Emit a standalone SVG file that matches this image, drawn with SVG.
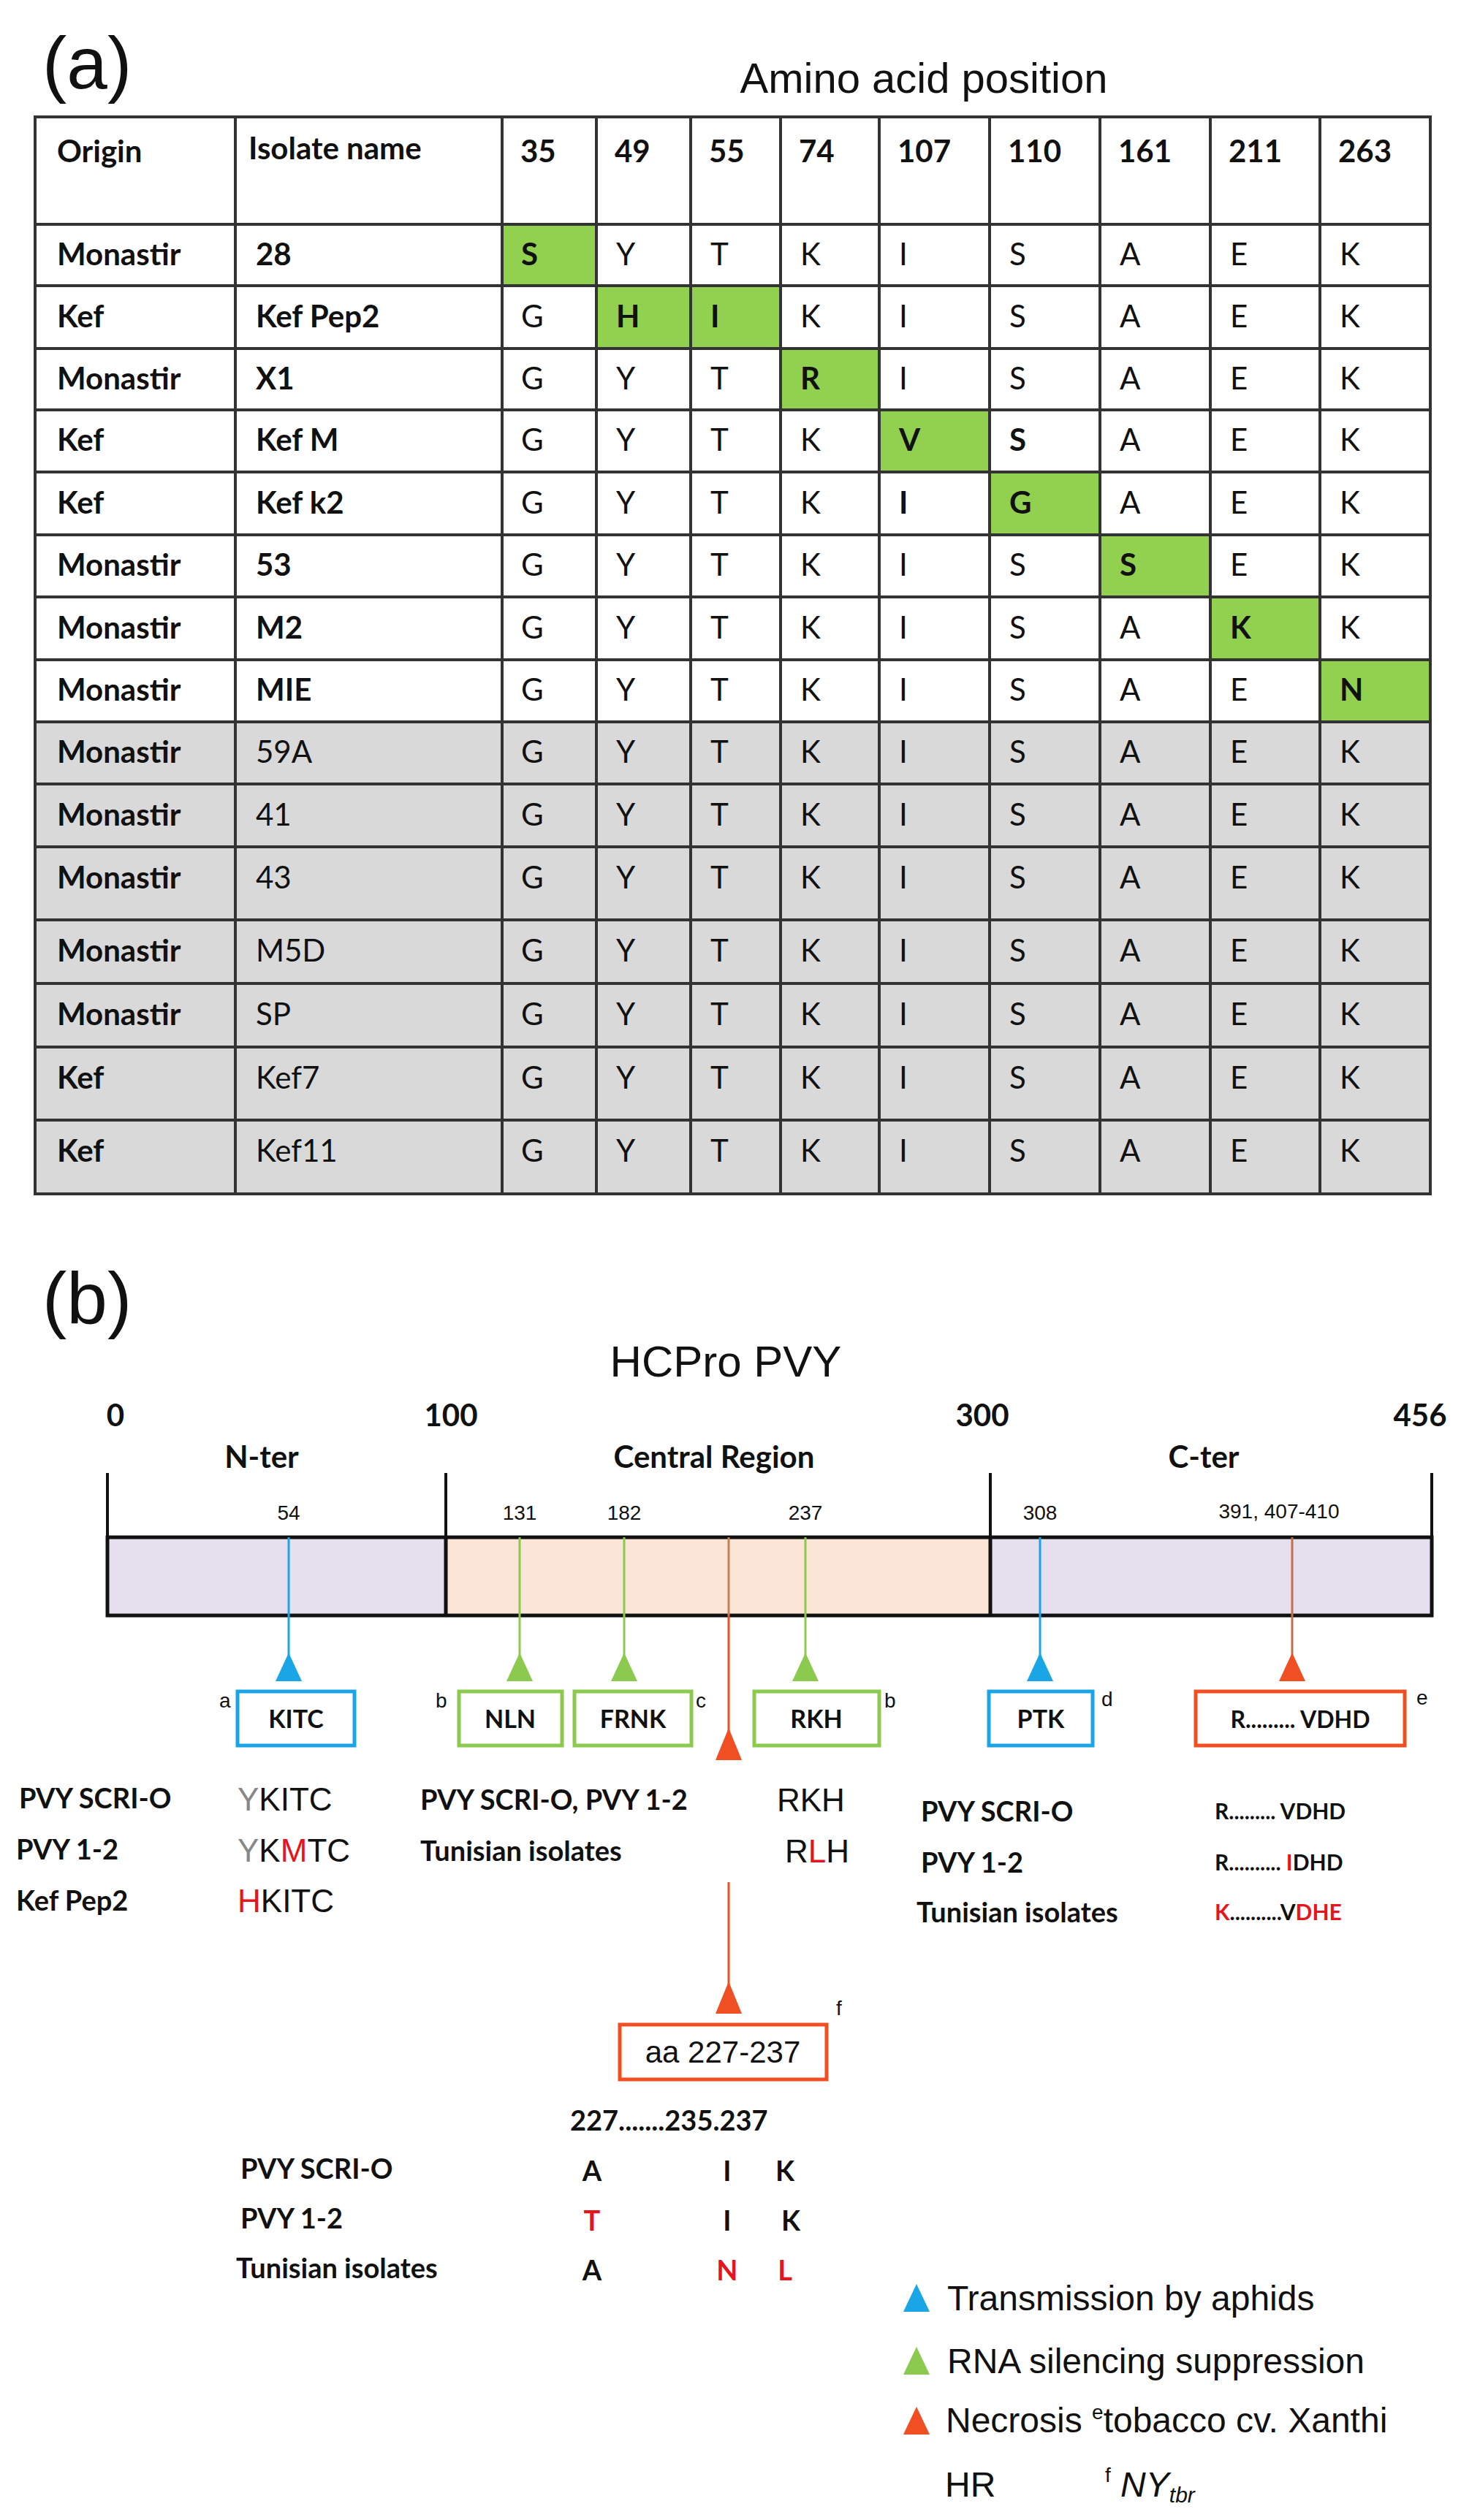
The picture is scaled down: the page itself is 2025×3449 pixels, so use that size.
<svg xmlns="http://www.w3.org/2000/svg" width="2025" height="3449" viewBox="0 0 2025 3449">
<style>
.t{font-family:Lato,"Liberation Sans",sans-serif;font-size:42px;fill:#111}
.b{font-weight:bold}
.a{font-family:"Liberation Sans",Arial,sans-serif;fill:#111;font-weight:normal}
.g{stroke:#333;stroke-width:4;fill:none}
.r{fill:#e8141c}
.sm{font-family:"Liberation Sans",sans-serif;font-size:28px;fill:#111;font-weight:normal}
.bx{fill:#fff;stroke-width:5}
</style>
<rect width="2025" height="3449" fill="#fff"/>
<g id="panel-a">
<text x="58" y="121" class="a" font-size="100">(a)</text>
<text x="1264" y="127" class="a" font-size="58" text-anchor="middle">Amino acid position</text>
<rect x="48" y="988" width="1909" height="646" fill="#d9d9d9"/>
<g fill="#92d050">
<rect x="687" y="307" width="129" height="84"/>
<rect x="816" y="391" width="252" height="86"/>
<rect x="1068" y="477" width="135" height="84"/>
<rect x="1203" y="561" width="151" height="85"/>
<rect x="1354" y="646" width="151" height="86"/>
<rect x="1505" y="732" width="151" height="85"/>
<rect x="1656" y="817" width="150" height="86"/>
<rect x="1806" y="903" width="151" height="85"/>
</g>
<g class="g">
<rect x="48" y="160" width="1909" height="1474"/>
<path d="M48 307H1957M48 391H1957M48 477H1957M48 561H1957M48 646H1957M48 732H1957M48 817H1957M48 903H1957M48 988H1957M48 1073H1957M48 1159H1957M48 1259H1957M48 1346H1957M48 1433H1957M48 1533H1957"/>
<path d="M322 160V1634M687 160V1634M816 160V1634M945 160V1634M1068 160V1634M1203 160V1634M1354 160V1634M1505 160V1634M1656 160V1634M1806 160V1634"/>
</g>
<g class="t b">
<text x="78" y="222">Origin</text><text x="340" y="218">Isolate name</text>
<text x="712" y="222">35</text><text x="841" y="222">49</text><text x="970" y="222">55</text><text x="1093" y="222">74</text><text x="1228" y="222">107</text><text x="1379" y="222">110</text><text x="1530" y="222">161</text><text x="1681" y="222">211</text><text x="1831" y="222">263</text>
</g>
<g class="t b">
<text x="78" y="363">Monastir</text><text x="78" y="448">Kef</text><text x="78" y="533">Monastir</text><text x="78" y="617">Kef</text><text x="78" y="703">Kef</text><text x="78" y="788">Monastir</text><text x="78" y="874">Monastir</text><text x="78" y="959">Monastir</text><text x="78" y="1044">Monastir</text><text x="78" y="1130">Monastir</text><text x="78" y="1216">Monastir</text><text x="78" y="1316">Monastir</text><text x="78" y="1403">Monastir</text><text x="78" y="1490">Kef</text><text x="78" y="1590">Kef</text>
<text x="350" y="363">28</text><text x="350" y="448">Kef Pep2</text><text x="350" y="533">X1</text><text x="350" y="617">Kef M</text><text x="350" y="703">Kef k2</text><text x="350" y="788">53</text><text x="350" y="874">M2</text><text x="350" y="959">MIE</text>
</g>
<g class="t">
<text x="350" y="1044">59A</text><text x="350" y="1130">41</text><text x="350" y="1216">43</text><text x="350" y="1316">M5D</text><text x="350" y="1403">SP</text><text x="350" y="1490">Kef7</text><text x="350" y="1590">Kef11</text>
</g>
<g class="t">
<text y="363"><tspan x="713" font-weight="bold">S</tspan><tspan x="843">Y</tspan><tspan x="972">T</tspan><tspan x="1095">K</tspan><tspan x="1230">I</tspan><tspan x="1381">S</tspan><tspan x="1532">A</tspan><tspan x="1683">E</tspan><tspan x="1833">K</tspan></text>
<text y="448"><tspan x="713">G</tspan><tspan x="843" font-weight="bold">H</tspan><tspan x="972" font-weight="bold">I</tspan><tspan x="1095">K</tspan><tspan x="1230">I</tspan><tspan x="1381">S</tspan><tspan x="1532">A</tspan><tspan x="1683">E</tspan><tspan x="1833">K</tspan></text>
<text y="533"><tspan x="713">G</tspan><tspan x="843">Y</tspan><tspan x="972">T</tspan><tspan x="1095" font-weight="bold">R</tspan><tspan x="1230">I</tspan><tspan x="1381">S</tspan><tspan x="1532">A</tspan><tspan x="1683">E</tspan><tspan x="1833">K</tspan></text>
<text y="617"><tspan x="713">G</tspan><tspan x="843">Y</tspan><tspan x="972">T</tspan><tspan x="1095">K</tspan><tspan x="1230" font-weight="bold">V</tspan><tspan x="1381" font-weight="bold">S</tspan><tspan x="1532">A</tspan><tspan x="1683">E</tspan><tspan x="1833">K</tspan></text>
<text y="703"><tspan x="713">G</tspan><tspan x="843">Y</tspan><tspan x="972">T</tspan><tspan x="1095">K</tspan><tspan x="1230" font-weight="bold">I</tspan><tspan x="1381" font-weight="bold">G</tspan><tspan x="1532">A</tspan><tspan x="1683">E</tspan><tspan x="1833">K</tspan></text>
<text y="788"><tspan x="713">G</tspan><tspan x="843">Y</tspan><tspan x="972">T</tspan><tspan x="1095">K</tspan><tspan x="1230">I</tspan><tspan x="1381">S</tspan><tspan x="1532" font-weight="bold">S</tspan><tspan x="1683">E</tspan><tspan x="1833">K</tspan></text>
<text y="874"><tspan x="713">G</tspan><tspan x="843">Y</tspan><tspan x="972">T</tspan><tspan x="1095">K</tspan><tspan x="1230">I</tspan><tspan x="1381">S</tspan><tspan x="1532">A</tspan><tspan x="1683" font-weight="bold">K</tspan><tspan x="1833">K</tspan></text>
<text y="959"><tspan x="713">G</tspan><tspan x="843">Y</tspan><tspan x="972">T</tspan><tspan x="1095">K</tspan><tspan x="1230">I</tspan><tspan x="1381">S</tspan><tspan x="1532">A</tspan><tspan x="1683">E</tspan><tspan x="1833" font-weight="bold">N</tspan></text>
<text y="1044"><tspan x="713">G</tspan><tspan x="843">Y</tspan><tspan x="972">T</tspan><tspan x="1095">K</tspan><tspan x="1230">I</tspan><tspan x="1381">S</tspan><tspan x="1532">A</tspan><tspan x="1683">E</tspan><tspan x="1833">K</tspan></text>
<text y="1130"><tspan x="713">G</tspan><tspan x="843">Y</tspan><tspan x="972">T</tspan><tspan x="1095">K</tspan><tspan x="1230">I</tspan><tspan x="1381">S</tspan><tspan x="1532">A</tspan><tspan x="1683">E</tspan><tspan x="1833">K</tspan></text>
<text y="1216"><tspan x="713">G</tspan><tspan x="843">Y</tspan><tspan x="972">T</tspan><tspan x="1095">K</tspan><tspan x="1230">I</tspan><tspan x="1381">S</tspan><tspan x="1532">A</tspan><tspan x="1683">E</tspan><tspan x="1833">K</tspan></text>
<text y="1316"><tspan x="713">G</tspan><tspan x="843">Y</tspan><tspan x="972">T</tspan><tspan x="1095">K</tspan><tspan x="1230">I</tspan><tspan x="1381">S</tspan><tspan x="1532">A</tspan><tspan x="1683">E</tspan><tspan x="1833">K</tspan></text>
<text y="1403"><tspan x="713">G</tspan><tspan x="843">Y</tspan><tspan x="972">T</tspan><tspan x="1095">K</tspan><tspan x="1230">I</tspan><tspan x="1381">S</tspan><tspan x="1532">A</tspan><tspan x="1683">E</tspan><tspan x="1833">K</tspan></text>
<text y="1490"><tspan x="713">G</tspan><tspan x="843">Y</tspan><tspan x="972">T</tspan><tspan x="1095">K</tspan><tspan x="1230">I</tspan><tspan x="1381">S</tspan><tspan x="1532">A</tspan><tspan x="1683">E</tspan><tspan x="1833">K</tspan></text>
<text y="1590"><tspan x="713">G</tspan><tspan x="843">Y</tspan><tspan x="972">T</tspan><tspan x="1095">K</tspan><tspan x="1230">I</tspan><tspan x="1381">S</tspan><tspan x="1532">A</tspan><tspan x="1683">E</tspan><tspan x="1833">K</tspan></text>
</g>
</g>
<g id="panel-b-title">
<text x="58" y="1812" class="a" font-size="100">(b)</text>
<text x="993" y="1884" class="a" font-size="60" text-anchor="middle">HCPro PVY</text>
<g class="t b" text-anchor="middle">
<text x="158" y="1952">0</text><text x="617" y="1952">100</text><text x="1344" y="1952">300</text><text x="1943" y="1952">456</text>
<text x="358" y="2009">N-ter</text><text x="977" y="2009">Central Region</text><text x="1647" y="2009">C-ter</text>
</g>
</g>
<g id="bar">
<path d="M147 2016V2104M610 2016V2104M1355 2016V2104M1959 2016V2104" stroke="#111" stroke-width="4"/>
<rect x="147" y="2104" width="463" height="107" fill="#e6e0ee"/>
<rect x="610" y="2104" width="745" height="107" fill="#fbe5d6"/>
<rect x="1355" y="2104" width="604" height="107" fill="#e6e0ee"/>
<rect x="147" y="2104" width="1812" height="107" fill="none" stroke="#111" stroke-width="5"/>
<path d="M610 2104V2211M1355 2104V2211" stroke="#111" stroke-width="5"/>
<g class="sm" text-anchor="middle">
<text x="395" y="2080">54</text><text x="711" y="2080">131</text><text x="854" y="2080">182</text><text x="1102" y="2080">237</text><text x="1423" y="2080">308</text><text x="1750" y="2078">391, 407-410</text>
</g>
</g>
<g id="connectors">
<path d="M395 2104V2270M1423 2104V2270" stroke="#1aa6e6" stroke-width="3"/>
<path d="M711 2104V2270M854 2104V2270M1102 2104V2270" stroke="#8cc94f" stroke-width="3"/>
<path d="M1768 2104V2270" stroke="#c0704a" stroke-width="3"/>
<path d="M997 2104V2211" stroke="#c0805a" stroke-width="3"/>
<path d="M997 2211V2370M997 2576V2720" stroke="#f04e23" stroke-width="3"/>
<g fill="#1aa6e6"><path d="M395 2262L377 2301H413Z"/><path d="M1423 2262L1405 2301H1441Z"/></g>
<g fill="#8cc94f"><path d="M711 2262L693 2301H729Z"/><path d="M854 2262L836 2301H872Z"/><path d="M1102 2262L1084 2301H1120Z"/></g>
<g fill="#f04e23"><path d="M1768 2262L1750 2301H1786Z"/><path d="M997 2365L979 2409H1015Z"/><path d="M997 2712L979 2756H1015Z"/></g>
</g>
<g id="box-kitc"><rect x="325" y="2315" width="160" height="74" class="bx" stroke="#1aa6e6"/><text x="405" y="2365" class="t b" text-anchor="middle" style="font-size:34px">KITC</text><text x="300" y="2337" class="sm">a</text></g>
<g id="box-nln"><rect x="628" y="2315" width="141" height="74" class="bx" stroke="#8cc94f"/><text x="698" y="2365" class="t b" text-anchor="middle" style="font-size:34px">NLN</text><text x="596" y="2337" class="sm">b</text></g>
<g id="box-frnk"><rect x="786" y="2315" width="160" height="74" class="bx" stroke="#8cc94f"/><text x="866" y="2365" class="t b" text-anchor="middle" style="font-size:34px">FRNK</text><text x="952" y="2337" class="sm">c</text></g>
<g id="box-rkh"><rect x="1032" y="2315" width="171" height="74" class="bx" stroke="#8cc94f"/><text x="1117" y="2365" class="t b" text-anchor="middle" style="font-size:34px">RKH</text><text x="1210" y="2337" class="sm">b</text></g>
<g id="box-ptk"><rect x="1353" y="2315" width="142" height="74" class="bx" stroke="#1aa6e6"/><text x="1424" y="2365" class="t b" text-anchor="middle" style="font-size:34px">PTK</text><text x="1507" y="2335" class="sm">d</text></g>
<g id="box-vdhd"><rect x="1636" y="2315" width="286" height="74" class="bx" stroke="#f04e23"/><text x="1779" y="2365" class="t b" text-anchor="middle" style="font-size:32px">R......... VDHD</text><text x="1938" y="2333" class="sm">e</text></g>
<g id="box-aa"><rect x="848" y="2771" width="283" height="75" class="bx" stroke="#f04e23"/><text x="989" y="2823" class="a" font-size="42" text-anchor="middle">aa 227-237</text><text x="1144" y="2758" class="sm">f</text></g>
<g id="left-block" class="t b" style="font-size:38px">
<text x="26" y="2475">PVY SCRI-O</text><text x="22" y="2545">PVY 1-2</text><text x="22" y="2615">Kef Pep2</text>
<text x="325" y="2478" class="a" font-size="44"><tspan fill="#888">Y</tspan>KITC</text>
<text x="325" y="2548" class="a" font-size="44"><tspan fill="#888">Y</tspan>K<tspan class="r">M</tspan>TC</text>
<text x="325" y="2617" class="a" font-size="44"><tspan class="r">H</tspan>KITC</text>
</g>
<g id="mid-block" class="t b" style="font-size:38px">
<text x="575" y="2477">PVY SCRI-O, PVY 1-2</text><text x="575" y="2547">Tunisian isolates</text>
<text x="1063" y="2479" class="a" font-size="44">RKH</text>
<text x="1074" y="2549" class="a" font-size="44">R<tspan class="r">L</tspan>H</text>
</g>
<g id="right-block" class="t b" style="font-size:38px">
<text x="1260" y="2493">PVY SCRI-O</text><text x="1260" y="2563">PVY 1-2</text><text x="1254" y="2631">Tunisian isolates</text>
<text x="1662" y="2490" style="font-size:30px">R......... VDHD</text>
<text x="1662" y="2560" style="font-size:30px">R.......... <tspan class="r">I</tspan>DHD</text>
<text x="1662" y="2628" style="font-size:30px"><tspan class="r">K</tspan>..........V<tspan class="r">DHE</tspan></text>
</g>
<g id="aa-block" class="t b" style="font-size:38px">
<text x="780" y="2916">227.......235.237</text>
<text x="329" y="2982">PVY SCRI-O</text><text x="329" y="3050">PVY 1-2</text><text x="323" y="3118">Tunisian isolates</text>
<g text-anchor="middle">
<text x="810" y="2985">A</text><text x="995" y="2985">I</text><text x="1074" y="2985">K</text>
<text x="810" y="3053" class="r">T</text><text x="995" y="3053">I</text><text x="1082" y="3053">K</text>
<text x="810" y="3121">A</text><text x="995" y="3121" class="r">N</text><text x="1074" y="3121" class="r">L</text>
</g>
</g>
<g id="legend" class="a" font-size="48">
<path d="M1254 3126L1236 3164H1272Z" fill="#1aa6e6"/>
<path d="M1254 3212L1236 3250H1272Z" fill="#8cc94f"/>
<path d="M1254 3294L1236 3332H1272Z" fill="#f04e23"/>
<text x="1296" y="3162">Transmission by aphids</text>
<text x="1296" y="3248">RNA silencing suppression</text>
<text x="1294" y="3329">Necrosis <tspan font-size="28" dy="-18">e</tspan><tspan dy="18">tobacco cv. Xanthi</tspan></text>
<text x="1293" y="3417">HR</text>
<text x="1512" y="3417"><tspan font-size="28" dy="-20">f</tspan><tspan dy="20" font-style="italic"> NY</tspan><tspan font-style="italic" font-size="30" dy="8">tbr</tspan></text>
</g>
</svg>
